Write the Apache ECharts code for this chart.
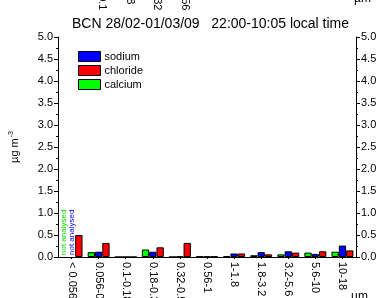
<!DOCTYPE html>
<html>
<head>
<meta charset="utf-8">
<script src="https://cdn.jsdelivr.net/npm/echarts@6/dist/echarts.min.js"></script>
<style>
html,body{margin:0;padding:0;background:#fff;}
#c{width:377px;height:298px;}
</style>
</head>
<body>
<div id="c"></div>
<script>
const categories = ['< 0.056','0.056-0.1','0.1-0.18','0.18-0.32','0.32-0.56','0.56-1','1-1.8','1.8-3.2','3.2-5.6','5.6-10','10-18'];
const calcium  = [null, 0.11, 0, 0.17, 0,    0.01, 0.02, 0.04, 0.06, 0.10, 0.12];
const sodium   = [null, 0.12, 0, 0.12, 0.01, 0.01, 0.08, 0.11, 0.13, 0.07, 0.26];
const chloride = [0.50, 0.32, 0, 0.22, 0.32, 0.01, 0.08, 0.06, 0.10, 0.13, 0.15];
const titleText = 'BCN 28/02-01/03/09   22:00-10:05 local time';
const notAnalysed = 'not analysed';
const upperPanelLabels = ['0.056-0.1','0.1-0.18','0.18-0.32','0.32-0.56'];

const FONT = 'Liberation Sans, Arial, sans-serif';
const chart = echarts.init(document.getElementById('c'), null, {renderer:'canvas'});

function withNA(arr, color) {
  return arr.map(v => v === null ? {
    value: 0,
    itemStyle: {borderWidth: 0, color: 'rgba(0,0,0,0)'},
    label: {show: true, formatter: notAnalysed, position: 'insideBottom', rotate: 90,
            align: 'left', verticalAlign: 'middle', distance: 2, fontSize: 8,
            color: color, fontFamily: FONT}
  } : v);
}

const barBase = {type: 'bar', barGap: '0%', barCategoryGap: '19%',
  itemStyle: {borderColor: '#000', borderWidth: 1}, xAxisIndex: 0, yAxisIndex: 0};

const yAxisCommon = {
  type: 'value', min: 0, max: 5, interval: 0.5,
  axisLine: {show: true, lineStyle: {color: '#000', width: 1}},
  axisTick: {show: true, inside: false, length: 4, lineStyle: {color: '#000'}},
  minorTick: {show: true, splitNumber: 2, length: 2, lineStyle: {color: '#000'}},
  splitLine: {show: false},
  axisLabel: {fontSize: 11, color: '#000', fontFamily: FONT, margin: 5,
              formatter: v => v.toFixed(1)}
};

const option = {
  animation: false,
  backgroundColor: '#fff',
  title: {text: titleText, left: 67, top: 12,
          textStyle: {fontSize: 14, fontWeight: 'normal', color: '#000', fontFamily: FONT}},
  legend: {
    data: ['sodium','chloride','calcium'], orient: 'vertical', left: 73, top: 46,
    icon: 'rect', itemWidth: 22, itemHeight: 10, itemGap: 3,
    textStyle: {fontSize: 11, color: '#000', fontFamily: FONT, padding: [0,0,0,-1]},
    itemStyle: {borderColor: '#000', borderWidth: 1}
  },
  grid: {left: 58, right: 21, top: 37, bottom: 41, containLabel: false, outerBoundsMode: 'none'},
  xAxis: [{
    type: 'category', data: categories, position: 'bottom',
    axisLine: {show: true, lineStyle: {color: '#000'}},
    axisTick: {show: true, alignWithLabel: true, length: 2, lineStyle: {color: '#000'}},
    axisLabel: {rotate: -90, fontSize: 11, color: '#000', fontFamily: FONT, margin: 5, interval: 0}
  }, {
    type: 'category', data: categories, position: 'top',
    axisLine: {show: true, lineStyle: {color: '#000'}},
    axisTick: {show: true, inside: true, alignWithLabel: true, length: 2, lineStyle: {color: '#000'}},
    axisLabel: {show: false}
  }],
  yAxis: [
    Object.assign({}, yAxisCommon, {position: 'left', name: 'µg m{sup|-3}',
      nameLocation: 'middle', nameGap: 37, nameRotate: 90,
      nameTextStyle: {fontSize: 11, color: '#000', fontFamily: FONT,
        rich: {sup: {fontSize: 7, verticalAlign: 'top', padding: [0,0,6,1], color: '#000'}}}}),
    Object.assign({}, yAxisCommon, {position: 'right'})
  ],
  series: [
    Object.assign({}, barBase, {name: 'calcium', data: withNA(calcium, '#00e000'), color: '#00ff00'}),
    Object.assign({}, barBase, {name: 'sodium', data: withNA(sodium, '#0000ff'), color: '#0000ff'}),
    Object.assign({}, barBase, {name: 'chloride', data: chloride, color: '#ff0000'})
  ],
  graphic: [
    {type: 'text', left: 351, top: 291, style: {text: 'µm', fill: '#000', font: '12px Liberation Sans'}},
    {type: 'text', x: 354, y: -7, style: {text: 'µm', fill: '#000', font: '12px Liberation Sans'}}
  ].concat(upperPanelLabels.map((t, i) => ({
    type: 'text', x: 102 + i * 27.7, y: -36, rotation: -Math.PI / 2,
    style: {text: t, font: '11px Liberation Sans', fill: '#000', align: 'left', verticalAlign: 'middle'}
  })))
};
chart.setOption(option);
</script>
</body>
</html>
